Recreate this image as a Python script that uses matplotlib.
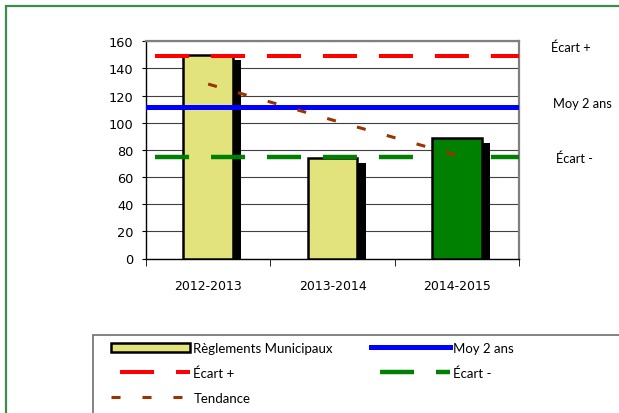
import numpy as np
import matplotlib.pyplot as plt
from matplotlib.patches import Rectangle

plt.rcParams['lines.scale_dashes'] = False

# data
categories = ['2012-2013', '2013-2014', '2014-2015']
reglements = [150, 74, 89]
bar_colors = ['#E3E37D', '#E3E37D', '#008000']
moy_2_ans = 111.5
ecart_plus = 149.5
ecart_moins = 74.5
tendance = [128.5, 102, 76]

W, H = 619, 414
fig = plt.figure(figsize=(W / 100, H / 100), dpi=100)


def fx(x):
    return x / W


def fy(y):
    return 1 - y / H


ax = fig.add_axes([fx(146), fy(259.5), (519 - 146) / W, (259.5 - 42.3) / H])

x = np.arange(len(categories))
bw = 0.4

# shadow behind the bars
ax.bar(x + 0.066, np.array(reglements) - 4, width=bw, color='black', zorder=2)
bars = ax.bar(x, reglements, width=bw, color=bar_colors, edgecolor='black',
              linewidth=1.8, zorder=3, label='Règlements Municipaux')

dash = (33.8, (24.5, 15.8))
l_plus = ax.axhline(ecart_plus, color='#FF0000', lw=2.9, linestyle=dash, zorder=5)
l_moy = ax.axhline(moy_2_ans, color='#0000FF', lw=3.6, zorder=5)
l_moins = ax.axhline(ecart_moins, color='#008000', lw=3.2, linestyle=dash, zorder=5)
l_tend, = ax.plot(x, tendance, color='#993300', lw=2.2,
                  linestyle=(0, (6.5, 15.8)), zorder=6)

ax.set_xlim(-0.5, 2.5)
ax.set_ylim(0, 160)
ax.set_yticks(range(0, 161, 20))
ax.yaxis.grid(True, color='#404040', lw=0.8)
ax.set_axisbelow(True)

ax.set_xticks(x)
ax.set_xticklabels(categories)
ax.set_xticks([-0.5, 0.5, 1.5, 2.5], minor=True)
ax.tick_params(axis='x', which='major', length=0, pad=15, labelsize=9)
ax.tick_params(axis='x', which='minor', length=5, direction='out')
ax.tick_params(axis='y', length=3, direction='out', pad=6, labelsize=9.3)

for side in ['top', 'right']:
    ax.spines[side].set_color('#808080')
    ax.spines[side].set_linewidth(1.6)
for side in ['left', 'bottom']:
    ax.spines[side].set_color('black')
    ax.spines[side].set_linewidth(1.0)

# labels on the right of the plot
lab_font = dict(family='Lato', fontsize=9.3, va='center', ha='left')
fig.text(fx(551), fy(48), 'Écart +', **lab_font)
fig.text(fx(553), fy(104), 'Moy 2 ans', **lab_font)
fig.text(fx(556), fy(159), 'Écart -', **lab_font)

# outer border and legend box
fig.add_artist(Rectangle((fx(6), -0.05), 1.1, fy(7) + 0.05, transform=fig.transFigure,
                         fill=False, edgecolor='#3C8C4C', lw=1.6))
fig.add_artist(Rectangle((fx(92.5), -0.05), 1.1, fy(336) + 0.05, transform=fig.transFigure,
                         fill=False, edgecolor='#6E6E6E', lw=1.2))

leg_kw = dict(loc='upper left', frameon=False, borderpad=0, borderaxespad=0,
              handlelength=6.0, handletextpad=0.25, labelspacing=0.95,
              prop={'family': 'Lato', 'size': 9.5})
fig.legend([bars, l_plus, l_tend], ['Règlements Municipaux', 'Écart +', 'Tendance'],
           bbox_to_anchor=(fx(111), fy(343)), **leg_kw)
fig.legend([l_moy, l_moins], ['Moy 2 ans', 'Écart -'],
           bbox_to_anchor=(fx(371), fy(343)), **leg_kw)

fig.savefig('out.png', dpi=100)
